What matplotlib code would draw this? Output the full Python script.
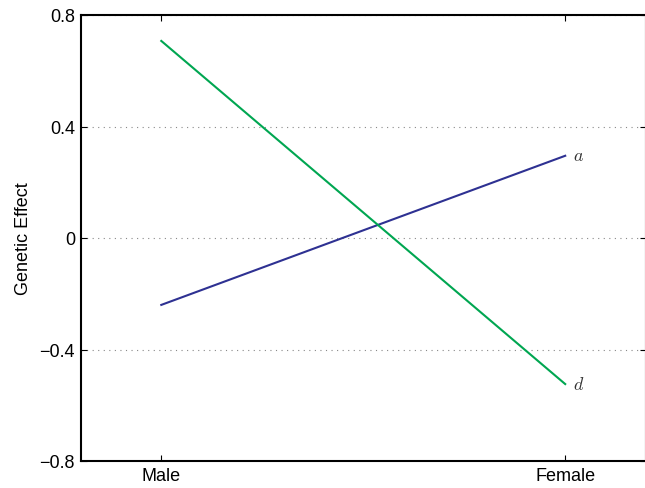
import matplotlib
matplotlib.use('Agg')
import matplotlib.pyplot as plt

# data
sexes = ['Male', 'Female']
effect_a = [-0.240, 0.295]
effect_d = [0.707, -0.524]
yticks = [-0.8, -0.4, 0, 0.4, 0.8]
ytick_labels = ['\u22120.8', '\u22120.4', '0', '0.4', '0.8']

plt.rcParams['font.family'] = ['Liberation Sans', 'DejaVu Sans']
plt.rcParams['mathtext.fontset'] = 'cm'

fig = plt.figure(figsize=(6.45, 4.89), dpi=100)
# axes runs slightly past the right edge, as in the cropped original
ax = fig.add_axes([80.5/645, 1 - 462/489, (646 - 80.5)/645, (462-16)/489])

x = [1, 2]
ax.plot(x, effect_a, color='#2e3192', lw=1.5)
ax.plot(x, effect_d, color='#00a651', lw=1.5)
ax.text(2.02, effect_a[1], '$a$', fontsize=13, va='center', ha='left', color='#333333')
ax.text(2.02, effect_d[1], '$d$', fontsize=13, va='center', ha='left', color='#333333')

ax.set_xlim(0.8, 2.2)
ax.set_ylim(-0.8, 0.8)
ax.set_xticks(x)
ax.set_xticklabels(sexes)
ax.set_yticks(yticks)
ax.set_yticklabels(ytick_labels)
ax.yaxis.grid(True, linestyle=(0, (1, 4)), color='#888888', lw=0.8)
ax.tick_params(direction='in', length=4.5, width=0.8, top=True, right=True,
               labelsize=13, pad=4)
for s in ax.spines.values():
    s.set_linewidth(1.5)
ax.set_ylabel('Genetic Effect', fontsize=13, labelpad=5)

fig.savefig('out.png', dpi=100)
